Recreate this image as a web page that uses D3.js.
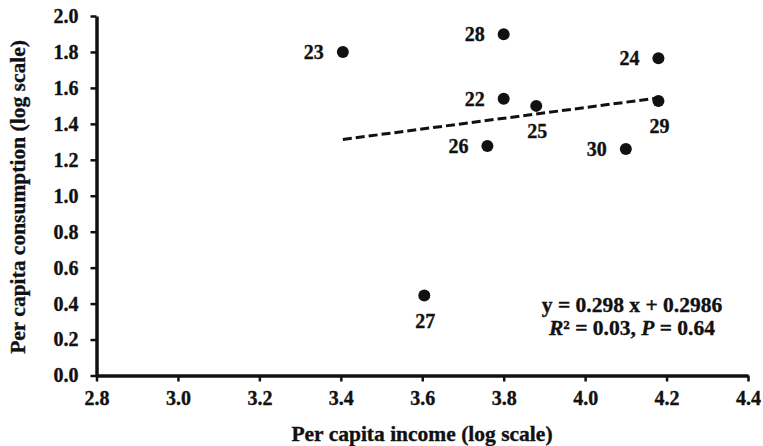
<!DOCTYPE html>
<html><head><meta charset="utf-8">
<script src="https://cdn.jsdelivr.net/npm/d3@7"></script>
<style>
html,body{margin:0;padding:0;background:#fff;}
text{font-family:"Liberation Serif","Times New Roman",serif;font-weight:bold;fill:#111;stroke:#111;stroke-width:0.35px;}
</style></head>
<body><svg id="c" width="763" height="446"></svg>
<script>
const labels = ["22","23","24","25","26","27","28","29","30"];
const incomeX = [3.80, 3.405, 4.18, 3.88, 3.76, 3.605, 3.80, 4.18, 4.10];
const consumptionY = [1.54, 1.80, 1.765, 1.50, 1.277, 0.445, 1.898, 1.527, 1.26];
const labelPos = ["left","left","left","below","left","below","left","below","left"];
const xTicks = [2.8,3.0,3.2,3.4,3.6,3.8,4.0,4.2,4.4];
const yTicks = [0,0.2,0.4,0.6,0.8,1.0,1.2,1.4,1.6,1.8,2.0];
const slope = 0.298, intercept = 0.2986;
const fitRange = [3.405, 4.18];

const svg = d3.select("#c");
const x = d3.scaleLinear().domain([2.8,4.4]).range([96.5,748]);
const y = d3.scaleLinear().domain([0,2]).range([375.5,16]);

const gx = svg.append("g").attr("transform",`translate(0,${y(0)})`)
  .call(d3.axisBottom(x).tickValues(xTicks).tickFormat(d3.format(".1f")).tickSize(6).tickPadding(9).tickSizeOuter(0));
const gy = svg.append("g").attr("transform",`translate(${x(2.8)},0)`)
  .call(d3.axisLeft(y).tickValues(yTicks).tickFormat(d3.format(".1f")).tickSize(6).tickPadding(12).tickSizeOuter(0));
[gx,gy].forEach(g=>{
  g.attr("font-family",null).attr("font-size",null);
  g.select(".domain").attr("stroke","#111").attr("stroke-width",3.5);
  g.selectAll(".tick line").attr("stroke","#111").attr("stroke-width",2.5);
  g.selectAll(".tick text").style("font-size","20px").style("font-weight","bold").attr("fill","#111");
});

// trend line
svg.append("line")
  .attr("x1",x(fitRange[0])).attr("y1",y(slope*fitRange[0]+intercept))
  .attr("x2",x(fitRange[1])).attr("y2",y(slope*fitRange[1]+intercept))
  .attr("stroke","#111").attr("stroke-width",3).attr("stroke-dasharray","9,4");

const pts = labels.map((l,i)=>({l, x:incomeX[i], y:consumptionY[i], p:labelPos[i]}));
svg.selectAll("circle.pt").data(pts).enter().append("circle")
  .attr("cx",d=>x(d.x)).attr("cy",d=>y(d.y)).attr("r",6).attr("fill","#111");
svg.selectAll("text.lbl").data(pts).enter().append("text")
  .attr("x",d=>d.p==="left"? x(d.x)-19 : x(d.x)+1)
  .attr("y",d=>d.p==="left"? y(d.y)+7 : y(d.y)+32)
  .attr("text-anchor",d=>d.p==="left"?"end":"middle")
  .style("font-size","20px").text(d=>d.l);

// equation
svg.append("text").attr("x",632).attr("y",312).attr("text-anchor","middle")
  .style("font-size","21.5px").text(`y = ${slope} x + ${intercept}`);
const t2 = svg.append("text").attr("x",632).attr("y",335).attr("text-anchor","middle").style("font-size","21.5px");
t2.append("tspan").style("font-style","italic").text("R");
t2.append("tspan").text("² = 0.03, ");
t2.append("tspan").style("font-style","italic").text("P");
t2.append("tspan").text(" = 0.64");

// axis titles
svg.append("text").attr("x",422).attr("y",441).attr("text-anchor","middle")
  .style("font-size","21.5px").text("Per capita income (log scale)");
svg.append("text").attr("transform","translate(25,197) rotate(-90)").attr("text-anchor","middle")
  .style("font-size","21.5px").text("Per capita consumption (log scale)");
</script></body></html>
